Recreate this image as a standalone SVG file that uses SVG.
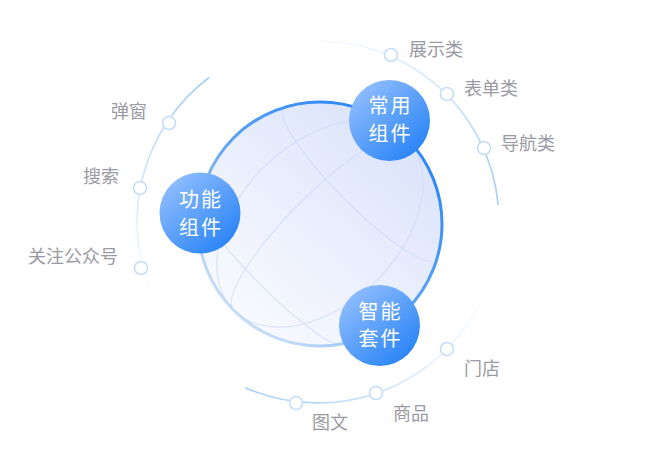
<svg xmlns="http://www.w3.org/2000/svg" width="658" height="459" viewBox="0 0 658 459">
<style>
.lbl{font-family:"Noto Sans CJK SC","Noto Sans",sans-serif;font-size:18px;fill:#9a9aa2}
.nt{font-family:"Noto Sans CJK SC","Noto Sans",sans-serif;font-size:20px;fill:#ffffff;text-anchor:middle;letter-spacing:2px}
.dot{fill:#ffffff;stroke:#c6ddf8;stroke-width:1.6}
.grid{fill:none;stroke:#cddbf8;stroke-width:1.2;stroke-opacity:0.75}
</style>
<defs>
<linearGradient id="sphFill" x1="0.85" y1="0.1" x2="0.15" y2="0.9">
<stop offset="0" stop-color="#dbe3fb"/>
<stop offset="1" stop-color="#f9faff"/>
</linearGradient>
<linearGradient id="sphStroke" x1="0.8" y1="0.15" x2="0.2" y2="0.85">
<stop offset="0" stop-color="#2e88f6"/>
<stop offset="0.5" stop-color="#5ea4f6"/>
<stop offset="1" stop-color="#c2dcf8"/>
</linearGradient>
<linearGradient id="nodeFill" x1="0.15" y1="0.1" x2="0.85" y2="0.9">
<stop offset="0" stop-color="#8ebcfd"/>
<stop offset="1" stop-color="#2a84f6"/>
</linearGradient>
<linearGradient id="arcL" gradientUnits="userSpaceOnUse" x1="209" y1="78" x2="154" y2="300">
<stop offset="0" stop-color="#a3cdf6" stop-opacity="1"/>
<stop offset="1" stop-color="#a3cdf6" stop-opacity="0"/>
</linearGradient>
<linearGradient id="arcT" gradientUnits="userSpaceOnUse" x1="299" y1="42" x2="498" y2="205">
<stop offset="0" stop-color="#a3cdf6" stop-opacity="0"/>
<stop offset="1" stop-color="#a3cdf6" stop-opacity="1"/>
</linearGradient>
<linearGradient id="arcB" gradientUnits="userSpaceOnUse" x1="245" y1="388" x2="489" y2="281">
<stop offset="0" stop-color="#a3cdf6" stop-opacity="1"/>
<stop offset="1" stop-color="#a3cdf6" stop-opacity="0"/>
</linearGradient>
<clipPath id="sphClip"><circle cx="320" cy="224" r="121"/></clipPath>
</defs>

<g id="connectors">
<path d="M209.1,77.5 A181,181 0 0 0 154,298.5" fill="none" stroke="url(#arcL)" stroke-width="1.6"/>
<path d="M299,42 A181,181 0 0 1 498.2,205" fill="none" stroke="url(#arcT)" stroke-width="1.6"/>
<path d="M245.3,387.7 A181,181 0 0 0 489,281" fill="none" stroke="url(#arcB)" stroke-width="1.6"/>
</g>

<g id="sphere">
<circle cx="320" cy="224" r="122" fill="url(#sphFill)"/>
<g clip-path="url(#sphClip)">
<g transform="rotate(45 320 224)">
<path class="grid" d="M212,167 A108,22 0 0 0 428,167"/>
<path class="grid" d="M219.4,293 A100.6,16 0 0 0 420.6,293"/>
<ellipse class="grid" cx="320" cy="224" rx="80" ry="122"/>
<path class="grid" d="M320,102 A29,122 0 0 0 320,346"/>
</g>
</g>
<circle cx="320" cy="224" r="122" fill="none" stroke="url(#sphStroke)" stroke-width="3"/>
</g>

<g id="node-common">
<circle cx="389.5" cy="120.5" r="40.5" fill="url(#nodeFill)"/>
<text class="nt" x="390.5" y="113">常用</text>
<text class="nt" x="390.5" y="141">组件</text>
</g>
<g id="node-function">
<circle cx="200" cy="213" r="40.5" fill="url(#nodeFill)"/>
<text class="nt" x="201" y="207">功能</text>
<text class="nt" x="201" y="234.5">组件</text>
</g>
<g id="node-smart">
<circle cx="379.5" cy="325.5" r="40.5" fill="url(#nodeFill)"/>
<text class="nt" x="380.5" y="318.5">智能</text>
<text class="nt" x="380.5" y="346">套件</text>
</g>

<g id="leaf-zhanshi"><circle class="dot" cx="391" cy="55" r="6.5"/><text class="lbl" x="409" y="55.5">展示类</text></g>
<g id="leaf-biaodan"><circle class="dot" cx="447" cy="94" r="6.5"/><text class="lbl" x="464" y="95">表单类</text></g>
<g id="leaf-daohang"><circle class="dot" cx="484" cy="148" r="6.5"/><text class="lbl" x="501" y="149.5">导航类</text></g>
<g id="leaf-tanchuang"><circle class="dot" cx="169" cy="123" r="6.5"/><text class="lbl" x="147" y="117.5" text-anchor="end">弹窗</text></g>
<g id="leaf-sousuo"><circle class="dot" cx="140" cy="188" r="6.5"/><text class="lbl" x="119" y="182.5" text-anchor="end">搜索</text></g>
<g id="leaf-guanzhu"><circle class="dot" cx="141" cy="268" r="6.5"/><text class="lbl" x="118" y="262.5" text-anchor="end">关注公众号</text></g>
<g id="leaf-mendian"><circle class="dot" cx="447" cy="349" r="6.5"/><text class="lbl" x="464" y="374.5">门店</text></g>
<g id="leaf-shangpin"><circle class="dot" cx="376" cy="393" r="6.5"/><text class="lbl" x="393" y="419.5">商品</text></g>
<g id="leaf-tuwen"><circle class="dot" cx="296" cy="403" r="6.5"/><text class="lbl" x="312" y="428.5">图文</text></g>
</svg>
